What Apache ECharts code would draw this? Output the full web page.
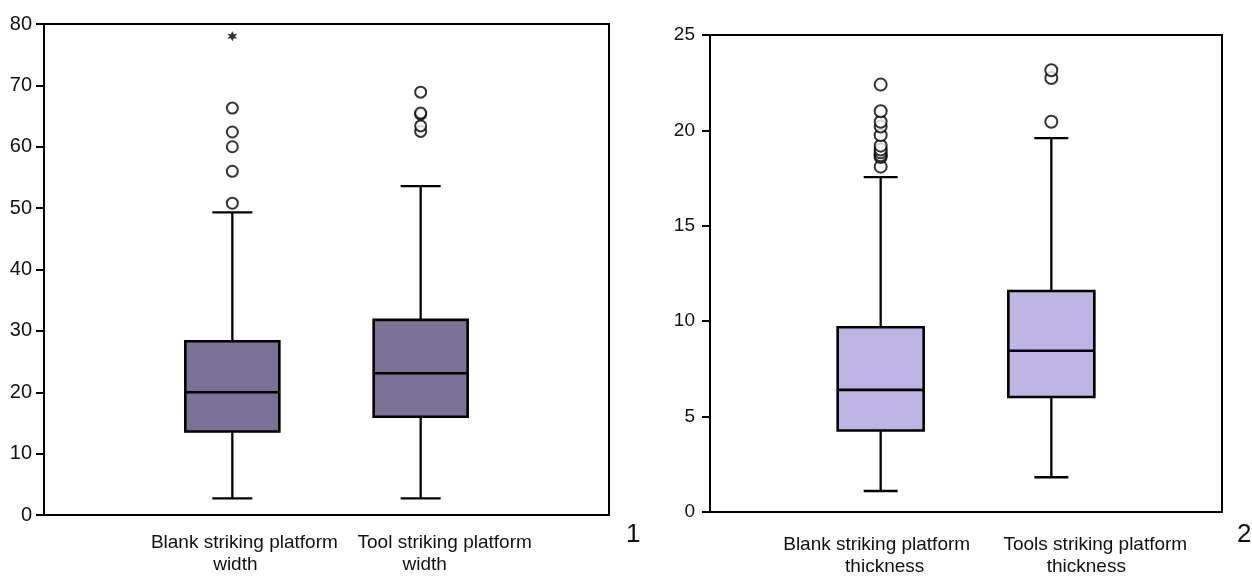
<!DOCTYPE html>
<html>
<head>
<meta charset="utf-8">
<script src="https://cdn.jsdelivr.net/npm/echarts@6/dist/echarts.min.js"></script>
<style>
html,body{margin:0;padding:0;background:#fff;}
#chart{width:1252px;height:577px;}
</style>
</head>
<body>
<div id="chart"></div>
<script>
// ---- Panel 1: striking platform width ----
const widthCategories = ['Blank striking platform\nwidth', 'Tool striking platform\nwidth'];
// [min, Q1, median, Q3, max]
const widthBoxes = [
  [2.7, 13.6, 20.0, 28.3, 49.3],
  [2.7, 16.0, 23.1, 31.8, 53.6]
];
const widthOutliersBlank = [50.8, 56.0, 60.0, 62.4, 66.3];
const widthOutliersTool = [62.5, 63.4, 65.3, 65.5, 68.9];
const widthExtremeBlank = [78.0];
const widthTicks = { min: 0, max: 80, interval: 10 };

// ---- Panel 2: striking platform thickness ----
const thickCategories = ['Blank striking platform\nthickness', 'Tools striking platform\nthickness'];
const thickBoxes = [
  [1.1, 4.27, 6.4, 9.68, 17.55],
  [1.82, 6.03, 8.45, 11.58, 19.6]
];
const thickOutliersBlank = [18.1, 18.6, 18.7, 18.85, 19.0, 19.2, 19.75, 20.2, 20.45, 21.0, 22.4];
const thickOutliersTool = [20.45, 22.75, 23.15];
const thickTicks = { min: 0, max: 25, interval: 5 };

const panelLabels = ['1', '2'];

// ---------------------------------------------------------------
const FONT = 'Liberation Sans, Arial, sans-serif';

function boxRows(boxes) {
  return boxes.map((b, i) => [i + 1].concat(b));
}
function pointRows(idx, vals) {
  return vals.map(v => [idx, v]);
}
function makeRender(boxW, capW, fill) {
  return function (params, api) {
    const x = api.value(0);
    const p = k => api.coord([x, api.value(k)]);
    const pMin = p(1), pQ1 = p(2), pMed = p(3), pQ3 = p(4), pMax = p(5);
    const cx = pMin[0];
    const ls = { stroke: '#000', lineWidth: 2.3 };
    return {
      type: 'group',
      children: [
        { type: 'line', shape: { x1: cx, y1: pMax[1], x2: cx, y2: pQ3[1] }, style: ls },
        { type: 'line', shape: { x1: cx, y1: pQ1[1], x2: cx, y2: pMin[1] }, style: ls },
        { type: 'line', shape: { x1: cx - capW / 2, y1: pMax[1], x2: cx + capW / 2, y2: pMax[1] }, style: ls },
        { type: 'line', shape: { x1: cx - capW / 2, y1: pMin[1], x2: cx + capW / 2, y2: pMin[1] }, style: ls },
        { type: 'rect', shape: { x: cx - boxW / 2, y: pQ3[1], width: boxW, height: pQ1[1] - pQ3[1] },
          style: { fill: fill, stroke: '#000', lineWidth: 2.6 } },
        { type: 'line', shape: { x1: cx - boxW / 2, y1: pMed[1], x2: cx + boxW / 2, y2: pMed[1] }, style: { stroke: '#000', lineWidth: 2.6 } }
      ]
    };
  };
}
function xLabelCfg(cats, shifts, prefix, margin) {
  const rich = {};
  cats.forEach((c, i) => {
    c.split('\n').forEach((t, j) => {
      const s = shifts[i][j];
      rich[prefix + i + '_' + j] = {
        fontSize: 19, lineHeight: 22, color: '#111', fontFamily: FONT,
        padding: s >= 0 ? [0, 0, 0, 2 * s] : [0, -2 * s, 0, 0]
      };
    });
  });
  return {
    show: true, margin: margin, interval: 0,
    formatter: function (v) {
      const i = Math.round(v) - 1;
      if (i < 0 || i >= cats.length) return '';
      return cats[i].split('\n').map((t, j) => '{' + prefix + i + '_' + j + '|' + t + '}').join('\n');
    },
    rich: rich
  };
}
function xAxisCfg(gridIndex, cats, shifts, prefix, margin) {
  return {
    gridIndex: gridIndex, type: 'value', min: 0, max: 3, interval: 1,
    axisLine: { show: true, onZero: false, lineStyle: { color: '#000', width: 2 } },
    axisTick: { show: false }, splitLine: { show: false },
    axisLabel: xLabelCfg(cats, shifts, prefix, margin)
  };
}
function yAxisCfg(gridIndex, ticks, fontSize, margin) {
  return {
    gridIndex: gridIndex, type: 'value', min: ticks.min, max: ticks.max, interval: ticks.interval,
    axisLine: { show: true, lineStyle: { color: '#000', width: 2 } },
    axisTick: { show: true, length: 8, lineStyle: { color: '#000', width: 2 } },
    splitLine: { show: false },
    axisLabel: { fontSize: fontSize, color: '#111', fontFamily: FONT, margin: margin }
  };
}
const circleStyle = { color: '#000', borderWidth: 2.6 };

const option = {
  backgroundColor: '#fff',
  animation: false,
  title: [
    { text: panelLabels[0], left: 621, top: 517, textStyle: { fontSize: 26, fontWeight: 'normal', color: '#111', fontFamily: FONT } },
    { text: panelLabels[1], left: 1232, top: 517, textStyle: { fontSize: 26, fontWeight: 'normal', color: '#111', fontFamily: FONT } }
  ],
  grid: [
    { left: 44, right: 643, top: 24, bottom: 62, show: true, borderColor: '#000', borderWidth: 2, backgroundColor: 'transparent' },
    { left: 710, right: 30, top: 35, bottom: 65, show: true, borderColor: '#000', borderWidth: 2, backgroundColor: 'transparent' }
  ],
  xAxis: [
    xAxisCfg(0, widthCategories, [[12, 3], [24, 4]], 'w', 17),
    xAxisCfg(1, thickCategories, [[-4, 4], [44, 35]], 't', 22)
  ],
  yAxis: [
    yAxisCfg(0, widthTicks, 20, 12),
    yAxisCfg(1, thickTicks, 19, 15)
  ],
  series: [
    { type: 'custom', xAxisIndex: 0, yAxisIndex: 0, data: boxRows(widthBoxes),
      encode: { x: 0, y: [1, 2, 3, 4, 5] }, renderItem: makeRender(94, 40, '#7b7196') },
    { type: 'scatter', xAxisIndex: 0, yAxisIndex: 0, symbol: 'emptyCircle', symbolSize: 11,
      itemStyle: circleStyle, data: pointRows(1, widthOutliersBlank).concat(pointRows(2, widthOutliersTool)) },
    { type: 'scatter', xAxisIndex: 0, yAxisIndex: 0,
      symbol: 'path://M0,-10L3,-4L9.5,-5L5,0L9.5,5L3,4L0,10L-3,4L-9.5,5L-5,0L-9.5,-5L-3,-4Z',
      symbolSize: 10, itemStyle: { color: '#000' }, data: pointRows(1, widthExtremeBlank) },
    { type: 'custom', xAxisIndex: 1, yAxisIndex: 1, data: boxRows(thickBoxes),
      encode: { x: 0, y: [1, 2, 3, 4, 5] }, renderItem: makeRender(86, 34, '#bfb5e4') },
    { type: 'scatter', xAxisIndex: 1, yAxisIndex: 1, symbol: 'emptyCircle', symbolSize: 12,
      itemStyle: circleStyle, data: pointRows(1, thickOutliersBlank).concat(pointRows(2, thickOutliersTool)) }
  ]
};
const chart = echarts.init(document.getElementById('chart'), null, { renderer: 'canvas' });
chart.setOption(option);
</script>
</body>
</html>
